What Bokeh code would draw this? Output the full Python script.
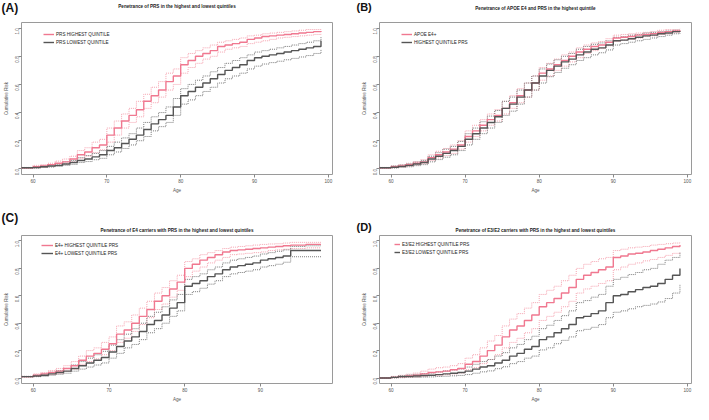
import math
from bokeh.plotting import figure
from bokeh.layouts import column, row
from bokeh.models import Range1d, FixedTicker, PrintfTickFormatter, Label, Legend, LegendItem, Title
from bokeh.embed import file_html
from bokeh.resources import INLINE

# ---------------- data ----------------
ages_a = list(range(58, 100))
a_hi = [0.008, 0.008, 0.015, 0.02, 0.03, 0.04, 0.05, 0.07, 0.10, 0.12, 0.15, 0.17, 0.24, 0.29, 0.34, 0.38, 0.42, 0.48, 0.52, 0.56,
        0.62, 0.66, 0.74, 0.77, 0.80, 0.82, 0.84, 0.87, 0.88, 0.89, 0.90, 0.92, 0.93, 0.94, 0.945, 0.95, 0.955, 0.96, 0.965, 0.97, 0.975, 0.98]
a_hi_up = [0.01, 0.01, 0.025, 0.03, 0.04, 0.055, 0.07, 0.09, 0.13, 0.15, 0.19, 0.21, 0.29, 0.34, 0.39, 0.43, 0.48, 0.53, 0.58, 0.62,
           0.68, 0.71, 0.79, 0.82, 0.84, 0.86, 0.88, 0.90, 0.91, 0.92, 0.93, 0.945, 0.95, 0.96, 0.965, 0.97, 0.975, 0.98, 0.985, 0.99, 0.99, 0.995]
a_hi_lo = [0.005, 0.005, 0.008, 0.012, 0.02, 0.028, 0.035, 0.05, 0.075, 0.09, 0.115, 0.135, 0.19, 0.24, 0.29, 0.33, 0.37, 0.43, 0.47, 0.51,
           0.56, 0.60, 0.68, 0.72, 0.75, 0.78, 0.80, 0.83, 0.85, 0.86, 0.87, 0.89, 0.90, 0.91, 0.92, 0.93, 0.935, 0.94, 0.945, 0.95, 0.955, 0.96]
a_lo = [0.008, 0.008, 0.01, 0.015, 0.02, 0.025, 0.035, 0.045, 0.06, 0.07, 0.085, 0.10, 0.13, 0.15, 0.18, 0.21, 0.24, 0.28, 0.32, 0.35,
        0.38, 0.44, 0.52, 0.55, 0.58, 0.61, 0.64, 0.67, 0.70, 0.72, 0.74, 0.77, 0.79, 0.80, 0.81, 0.82, 0.83, 0.84, 0.85, 0.86, 0.87, 0.91]
a_lo_up = [0.01, 0.01, 0.015, 0.022, 0.03, 0.035, 0.05, 0.06, 0.08, 0.095, 0.11, 0.13, 0.16, 0.19, 0.22, 0.25, 0.29, 0.33, 0.37, 0.40,
           0.44, 0.50, 0.57, 0.60, 0.63, 0.66, 0.69, 0.72, 0.75, 0.77, 0.79, 0.81, 0.83, 0.84, 0.85, 0.86, 0.87, 0.88, 0.89, 0.90, 0.91, 0.94]
a_lo_lo = [0.005, 0.005, 0.006, 0.01, 0.013, 0.017, 0.025, 0.032, 0.045, 0.052, 0.065, 0.075, 0.10, 0.12, 0.145, 0.17, 0.20, 0.23, 0.27, 0.30,
           0.33, 0.38, 0.46, 0.49, 0.52, 0.55, 0.58, 0.61, 0.64, 0.66, 0.68, 0.71, 0.73, 0.745, 0.755, 0.765, 0.775, 0.785, 0.795, 0.805, 0.82, 0.85]

ages_b = list(range(58, 100))
b_hi = [0.008, 0.008, 0.015, 0.02, 0.03, 0.04, 0.05, 0.08, 0.10, 0.12, 0.14, 0.17, 0.23, 0.27, 0.31, 0.35, 0.38, 0.43, 0.47, 0.52,
        0.56, 0.61, 0.68, 0.71, 0.74, 0.77, 0.80, 0.83, 0.85, 0.87, 0.88, 0.90, 0.93, 0.935, 0.94, 0.95, 0.955, 0.96, 0.97, 0.975, 0.98, 0.985]
b_hi_up = [0.01, 0.01, 0.022, 0.03, 0.04, 0.052, 0.065, 0.10, 0.125, 0.145, 0.17, 0.20, 0.27, 0.31, 0.35, 0.39, 0.42, 0.48, 0.52, 0.57,
           0.61, 0.66, 0.72, 0.75, 0.78, 0.81, 0.83, 0.86, 0.88, 0.895, 0.905, 0.925, 0.95, 0.955, 0.96, 0.965, 0.97, 0.975, 0.985, 0.99, 0.99, 0.995]
b_hi_lo = [0.005, 0.005, 0.009, 0.013, 0.02, 0.028, 0.037, 0.06, 0.078, 0.095, 0.11, 0.14, 0.19, 0.23, 0.27, 0.31, 0.34, 0.39, 0.43, 0.47,
           0.51, 0.56, 0.63, 0.66, 0.70, 0.73, 0.76, 0.79, 0.82, 0.84, 0.855, 0.875, 0.905, 0.915, 0.92, 0.93, 0.94, 0.945, 0.955, 0.96, 0.97, 0.975]
b_lo = [0.008, 0.008, 0.012, 0.018, 0.025, 0.035, 0.045, 0.07, 0.09, 0.11, 0.13, 0.16, 0.21, 0.25, 0.29, 0.33, 0.37, 0.43, 0.46, 0.51,
        0.56, 0.61, 0.66, 0.70, 0.73, 0.76, 0.78, 0.81, 0.83, 0.85, 0.86, 0.88, 0.91, 0.915, 0.925, 0.935, 0.945, 0.95, 0.96, 0.965, 0.975, 0.98]
b_lo_up = [0.01, 0.01, 0.02, 0.027, 0.036, 0.048, 0.06, 0.09, 0.115, 0.14, 0.16, 0.195, 0.25, 0.29, 0.335, 0.375, 0.415, 0.48, 0.51, 0.56,
           0.61, 0.66, 0.71, 0.745, 0.775, 0.80, 0.82, 0.85, 0.87, 0.885, 0.895, 0.91, 0.935, 0.94, 0.95, 0.955, 0.965, 0.97, 0.975, 0.98, 0.985, 0.99]
b_lo_lo = [0.005, 0.005, 0.006, 0.01, 0.015, 0.023, 0.03, 0.05, 0.066, 0.083, 0.10, 0.13, 0.17, 0.21, 0.25, 0.29, 0.33, 0.38, 0.41, 0.46,
           0.51, 0.56, 0.61, 0.655, 0.685, 0.715, 0.74, 0.77, 0.79, 0.81, 0.825, 0.845, 0.88, 0.89, 0.90, 0.91, 0.92, 0.93, 0.94, 0.95, 0.96, 0.965]

ages_c = list(range(58, 99))
c_hi = [0.01, 0.01, 0.02, 0.03, 0.04, 0.05, 0.07, 0.09, 0.13, 0.16, 0.18, 0.21, 0.25, 0.32, 0.35, 0.40, 0.45, 0.50, 0.56, 0.60,
        0.65, 0.70, 0.80, 0.83, 0.86, 0.88, 0.90, 0.92, 0.93, 0.935, 0.94, 0.945, 0.95, 0.955, 0.96, 0.965, 0.97, 0.97, 0.975, 0.975, 0.975]
c_hi_up = [0.012, 0.012, 0.03, 0.04, 0.055, 0.07, 0.09, 0.12, 0.16, 0.20, 0.22, 0.26, 0.30, 0.38, 0.41, 0.46, 0.51, 0.56, 0.62, 0.66,
           0.71, 0.75, 0.85, 0.87, 0.90, 0.915, 0.93, 0.945, 0.955, 0.96, 0.965, 0.97, 0.975, 0.978, 0.98, 0.985, 0.99, 0.99, 0.99, 0.99, 0.99]
c_hi_lo = [0.008, 0.008, 0.012, 0.02, 0.027, 0.035, 0.05, 0.065, 0.10, 0.12, 0.14, 0.17, 0.20, 0.26, 0.29, 0.34, 0.39, 0.44, 0.50, 0.54,
           0.59, 0.64, 0.74, 0.78, 0.81, 0.84, 0.86, 0.88, 0.90, 0.905, 0.91, 0.915, 0.92, 0.93, 0.935, 0.94, 0.945, 0.945, 0.95, 0.95, 0.95]
c_lo = [0.01, 0.01, 0.015, 0.02, 0.03, 0.04, 0.05, 0.07, 0.09, 0.11, 0.13, 0.15, 0.19, 0.23, 0.27, 0.30, 0.34, 0.39, 0.42, 0.46,
        0.51, 0.55, 0.67, 0.69, 0.71, 0.74, 0.76, 0.79, 0.81, 0.82, 0.83, 0.84, 0.86, 0.87, 0.88, 0.89, 0.93, 0.93, 0.93, 0.93, 0.93]
c_lo_up = [0.012, 0.012, 0.022, 0.03, 0.042, 0.055, 0.07, 0.095, 0.12, 0.145, 0.17, 0.195, 0.24, 0.28, 0.32, 0.36, 0.40, 0.45, 0.48, 0.52,
           0.57, 0.61, 0.72, 0.74, 0.76, 0.79, 0.81, 0.84, 0.86, 0.87, 0.88, 0.89, 0.905, 0.915, 0.925, 0.935, 0.96, 0.96, 0.965, 0.965, 0.965]
c_lo_lo = [0.008, 0.008, 0.01, 0.013, 0.02, 0.027, 0.035, 0.05, 0.065, 0.08, 0.095, 0.11, 0.145, 0.18, 0.22, 0.245, 0.28, 0.33, 0.36, 0.40,
           0.45, 0.49, 0.61, 0.63, 0.655, 0.685, 0.71, 0.74, 0.76, 0.77, 0.78, 0.79, 0.81, 0.82, 0.83, 0.845, 0.885, 0.885, 0.885, 0.885, 0.885]

ages_d = list(range(58, 100))
d_hi = [0.0, 0.0, 0.005, 0.01, 0.015, 0.02, 0.03, 0.04, 0.045, 0.05, 0.06, 0.07, 0.10, 0.12, 0.16, 0.20, 0.24, 0.30, 0.35, 0.38,
        0.42, 0.46, 0.52, 0.55, 0.58, 0.62, 0.66, 0.72, 0.75, 0.77, 0.79, 0.81, 0.88, 0.89, 0.905, 0.91, 0.92, 0.93, 0.94, 0.95, 0.96, 0.97]
d_hi_up = [0.0, 0.0, 0.012, 0.02, 0.028, 0.036, 0.05, 0.065, 0.075, 0.08, 0.09, 0.105, 0.145, 0.17, 0.22, 0.27, 0.31, 0.38, 0.43, 0.47,
           0.51, 0.55, 0.61, 0.64, 0.67, 0.71, 0.75, 0.80, 0.83, 0.85, 0.87, 0.88, 0.93, 0.94, 0.95, 0.955, 0.96, 0.97, 0.975, 0.98, 0.985, 0.99]
d_hi_lo = [0.0, 0.0, 0.001, 0.003, 0.005, 0.008, 0.012, 0.018, 0.02, 0.024, 0.03, 0.037, 0.06, 0.075, 0.105, 0.135, 0.17, 0.22, 0.26, 0.29,
           0.33, 0.36, 0.42, 0.45, 0.48, 0.52, 0.56, 0.62, 0.65, 0.67, 0.69, 0.71, 0.79, 0.81, 0.83, 0.84, 0.855, 0.865, 0.88, 0.895, 0.91, 0.92]
d_lo = [0.0, 0.0, 0.005, 0.01, 0.012, 0.015, 0.018, 0.02, 0.025, 0.03, 0.035, 0.04, 0.05, 0.065, 0.08, 0.09, 0.11, 0.13, 0.16, 0.18,
        0.21, 0.23, 0.28, 0.30, 0.33, 0.36, 0.39, 0.44, 0.45, 0.47, 0.49, 0.55, 0.60, 0.61, 0.63, 0.645, 0.66, 0.67, 0.69, 0.72, 0.75, 0.80]
d_lo_up = [0.0, 0.0, 0.01, 0.018, 0.022, 0.027, 0.032, 0.036, 0.044, 0.052, 0.06, 0.067, 0.08, 0.10, 0.12, 0.135, 0.16, 0.185, 0.22, 0.245,
           0.28, 0.305, 0.36, 0.385, 0.42, 0.455, 0.49, 0.55, 0.565, 0.59, 0.61, 0.67, 0.72, 0.735, 0.755, 0.77, 0.79, 0.80, 0.83, 0.86, 0.88, 0.92]
d_lo_lo = [0.0, 0.0, 0.001, 0.003, 0.004, 0.005, 0.007, 0.008, 0.011, 0.013, 0.016, 0.019, 0.025, 0.035, 0.045, 0.052, 0.068, 0.082, 0.105, 0.12,
           0.145, 0.16, 0.205, 0.22, 0.25, 0.275, 0.30, 0.345, 0.355, 0.37, 0.39, 0.44, 0.48, 0.49, 0.505, 0.52, 0.53, 0.54, 0.555, 0.58, 0.62, 0.68]

titles = ["Penetrance of PRS in the highest and lowest quintiles",
          "Penetrance of APOE E4 and PRS in the highest quintile",
          "Penetrance of E4 carriers with PRS in the highest and lowest quintiles",
          "Penetrance of E3/E2 carriers with PRS in the highest and lowest quintiles"]
tags = ["(A)", "(B)", "(C)", "(D)"]
legend_labels = [["PRS HIGHEST QUINTILE", "PRS LOWEST QUINTILE"],
                 ["APOE E4+", "HIGHEST QUINTILE PRS"],
                 ["E4+ HIGHEST QUINTILE PRS", "E4+ LOWEST QUINTILE PRS"],
                 ["E3/E2 HIGHEST QUINTILE PRS", "E3/E2 LOWEST QUINTILE PRS"]]
xticks_full = [60, 70, 80, 90, 100]
xticks_c = [60, 70, 80, 90]
yticks = [0.0, 0.2, 0.4, 0.6, 0.8, 1.0]

PINK = "#F07890"
PINK_BAND = "#F5A3B0"
GRAY = "#555555"
GRAY_BAND = "#7a7a7a"
FONT = "Liberation Sans"


def panel(idx, ages, hi, hi_up, hi_lo, lo, lo_up, lo_lo, xend, xticks,
          width, height, bl, br, bt, bb, tag_x, tag_y, tag_size, leg_x, leg_dy, glyph_w,
          title_inner, title_standoff):
    p = figure(width=width, height=height, output_backend="svg", toolbar_location=None,
               title=None,
               x_range=Range1d(58.44, xend), y_range=Range1d(-0.04, 1.04),
               min_border_left=bl, min_border_right=br, min_border_top=bt, min_border_bottom=bb)
    p.background_fill_color = "white"
    p.border_fill_color = "white"
    p.outline_line_color = "#9a9a9a"
    p.outline_line_width = 1
    p.xgrid.visible = False
    p.ygrid.visible = False

    ttl = Title(text=titles[idx], align="center", text_font=FONT, text_font_size="4.6px",
                text_font_style="bold", text_color="#222222", standoff=title_standoff)
    tag = Label(x=tag_x, y=tag_y, x_units="screen", y_units="screen",
                text=tags[idx], text_font=FONT, text_font_size=tag_size,
                text_font_style="bold", text_color="#111111", text_baseline="top")
    # first item added to "above" sits next to the frame
    if title_inner:
        p.add_layout(ttl, "above")
        p.add_layout(tag, "above")
    else:
        p.add_layout(tag, "above")
        p.add_layout(ttl, "above")

    for ax in (p.xaxis, p.yaxis):
        ax.axis_line_color = None
        ax.major_tick_line_color = "#888888"
        ax.major_tick_out = 3
        ax.major_tick_in = 0
        ax.minor_tick_line_color = None
        ax.major_label_text_font = FONT
        ax.major_label_text_font_size = "4.6px"
        ax.major_label_text_color = "#555555"
        ax.axis_label_text_font = FONT
        ax.axis_label_text_font_size = "4.6px"
        ax.axis_label_text_font_style = "normal"
        ax.axis_label_text_color = "#555555"
        ax.major_label_standoff = 1
        ax.axis_label_standoff = 2

    p.xaxis.ticker = FixedTicker(ticks=xticks)
    p.xaxis.axis_label = "Age"
    p.yaxis.ticker = FixedTicker(ticks=yticks)
    p.yaxis.formatter = PrintfTickFormatter(format="%.1f")
    p.yaxis.major_label_orientation = math.pi / 2
    p.yaxis.axis_label = "Cumulative Risk"

    # confidence bands (dotted)
    for band in (hi_up, hi_lo):
        p.step(ages, band, mode="after", line_color=PINK_BAND, line_width=1.0, line_dash="1 1")
    for band in (lo_up, lo_lo):
        p.step(ages, band, mode="after", line_color=GRAY_BAND, line_width=1.0, line_dash="1 1")
    r_hi = p.step(ages, hi, mode="after", line_color=PINK, line_width=1.4)
    r_lo = p.step(ages, lo, mode="after", line_color=GRAY, line_width=1.4)

    fh = height - bt - bb
    legend = Legend(items=[LegendItem(label=legend_labels[idx][0], renderers=[r_hi]),
                           LegendItem(label=legend_labels[idx][1], renderers=[r_lo])],
                    location=(leg_x, fh - leg_dy - 16),
                    label_text_font=FONT, label_text_font_size="4.6px", label_text_color="#222222",
                    glyph_width=glyph_w, glyph_height=8, label_height=8, label_standoff=2,
                    spacing=0, padding=0, margin=0,
                    border_line_alpha=0, background_fill_alpha=0)
    p.add_layout(legend)
    return p


pa = panel(0, ages_a, a_hi, a_hi_up, a_hi_lo, a_lo, a_lo_up, a_lo_lo, 100.56, xticks_full,
           346, 202, 20, 14, 22, 28, -20, 22, "12px", 22, 8, 11, False, 0)
pb = panel(1, ages_b, b_hi, b_hi_up, b_hi_lo, b_lo, b_lo_up, b_lo_lo, 100.56, xticks_full,
           347, 202, 33, 2, 22, 28, -23, 22, "11px", 22, 8, 11, False, 0)
pc = panel(2, ages_c, c_hi, c_hi_up, c_hi_lo, c_lo, c_lo_up, c_lo_lo, 99.52, xticks_c,
           346, 202, 20, 14, 33, 17, -20, 12, "12px", 20, 10, 12, True, 6)
pd = panel(3, ages_d, d_hi, d_hi_up, d_hi_lo, d_lo, d_lo_up, d_lo_lo, 100.56, xticks_full,
           347, 202, 33, 2, 33, 17, -23, 2, "11px", 15, 9, 6, True, 6)

layout = column(row(pa, pb), row(pc, pd))
open("out.html", "w").write(file_html(layout, INLINE))
